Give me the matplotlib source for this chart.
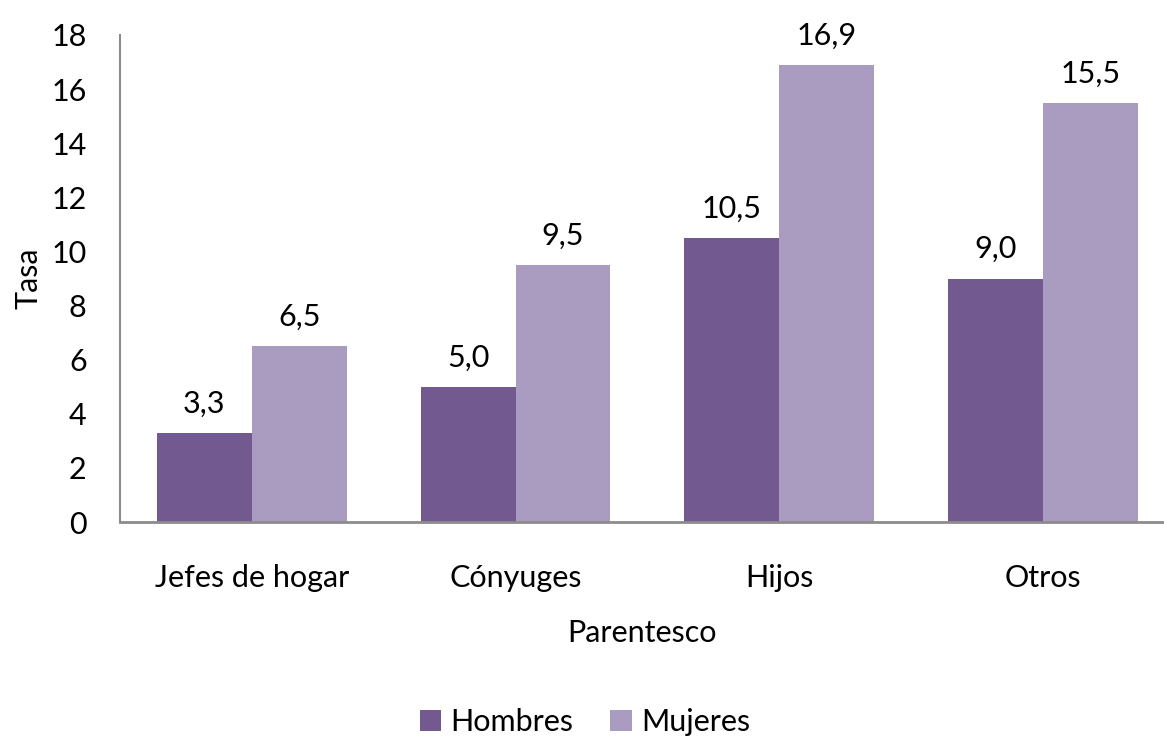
import matplotlib
matplotlib.use("Agg")
import matplotlib.pyplot as plt
import numpy as np

categories = ["Jefes de hogar", "Cónyuges", "Hijos", "Otros"]
hombres = [3.3, 5.0, 10.5, 9.0]
mujeres = [6.5, 9.5, 16.9, 15.5]
series_names = ["Hombres", "Mujeres"]
yticks = [0, 2, 4, 6, 8, 10, 12, 14, 16, 18]

plt.rcParams['font.family'] = ['Lato', 'DejaVu Sans']
FS = 22

W, H = 1164, 743
fig = plt.figure(figsize=(W/100, H/100), dpi=100)
ax = fig.add_axes([120/W, (H-522)/H, (W-120)/W, 487/H])

x = np.arange(len(categories))
bw = 0.36
c1, c2 = "#725990", "#aa9bc0"
b1 = ax.bar(x - bw/2, hombres, bw, color=c1, label=series_names[0])
b2 = ax.bar(x + bw/2, mujeres, bw, color=c2, label=series_names[1])

fmt = lambda v: f"{v:.1f}".replace(".", ",")
for bars, vals in ((b1, hombres), (b2, mujeres)):
    for r, v in zip(bars, vals):
        ax.annotate(fmt(v), (r.get_x() + r.get_width()/2, v), xytext=(0, 11),
                    textcoords="offset points", ha="center", va="bottom", fontsize=FS)

ax.set_ylim(0, 18)
ax.set_xlim(-0.5, -0.5 + (W-120)/263.7)
ax.set_yticks(yticks)
ax.set_xticks(x)
ax.set_xticklabels(categories)
ax.tick_params(axis="both", length=0, labelsize=FS)
ax.tick_params(axis="x", pad=30)
ax.tick_params(axis="y", pad=24)
for s in ["top", "right"]:
    ax.spines[s].set_visible(False)
ax.spines["left"].set_color("#8c8c8c")
ax.spines["left"].set_linewidth(1.5)
ax.spines["bottom"].set_color("#8c8c8c")
ax.spines["bottom"].set_linewidth(2)

ax.set_ylabel("Tasa", fontsize=FS, labelpad=6)
ax.set_xlabel("Parentesco", fontsize=FS, labelpad=20)

fig.legend(handles=[b1, b2], loc="center", bbox_to_anchor=(585/W, 1 - 722/H),
           ncol=2, frameon=False, fontsize=FS, handlelength=0.7, handleheight=0.7,
           handletextpad=0.3, columnspacing=1.2)

fig.savefig("out.png", dpi=100)
